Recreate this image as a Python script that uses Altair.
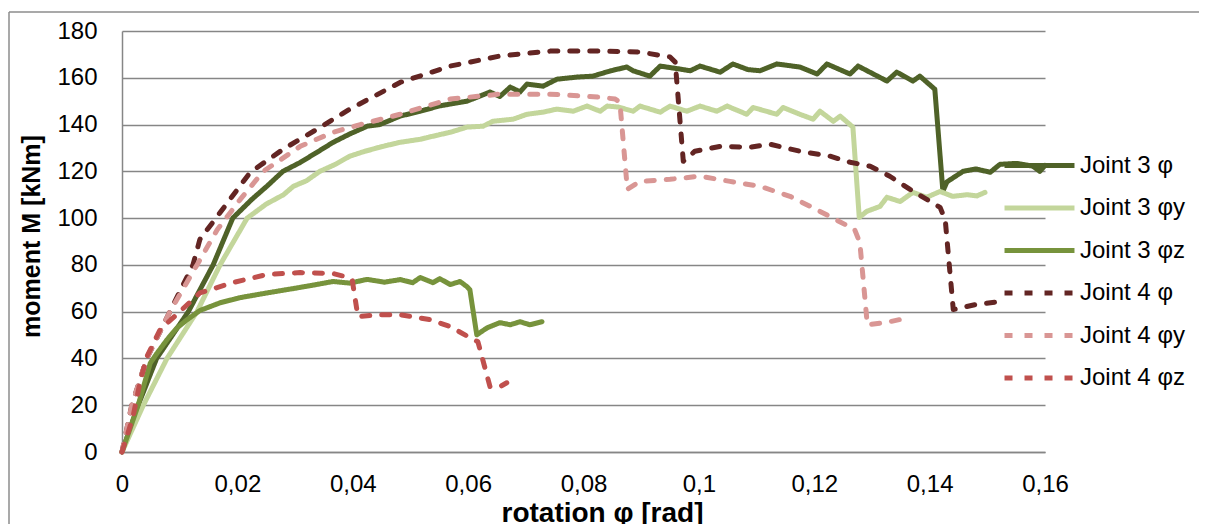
import altair as alt
import pandas as pd

# ---- data (rotation [rad], moment [kNm]) ----
series_names = ["Joint 3 φ", "Joint 3 φy", "Joint 3 φz", "Joint 4 φ", "Joint 4 φy", "Joint 4 φz"]
series_colors = ["#4F6228", "#C3D69B", "#77933C", "#632523", "#D99694", "#C0504D"]
series_dash = [[1, 0], [1, 0], [1, 0], [8, 12], [8, 12], [8, 12]]

j3_phi = [(0, 0), (0.0028, 20), (0.006, 40), (0.0115, 60), (0.0158, 80), (0.0192, 100), (0.0225, 108),
          (0.0251, 113.6), (0.0279, 120), (0.0309, 123.8), (0.0337, 128), (0.0366, 132.4), (0.0395, 136),
          (0.0425, 139.3), (0.0447, 140), (0.0482, 143.6), (0.0517, 145.7), (0.0551, 148), (0.0598, 150),
          (0.0638, 153.9), (0.0655, 152), (0.0673, 156), (0.069, 154), (0.0702, 157.3), (0.073, 156.4),
          (0.0754, 159.4), (0.0789, 160.3), (0.0816, 160.7), (0.0846, 162.9), (0.0875, 164.6), (0.0886, 163),
          (0.0915, 160.7), (0.0933, 165), (0.096, 164), (0.0985, 163), (0.1002, 165), (0.1037, 162.4),
          (0.1059, 165.9), (0.1085, 163.5), (0.1106, 163), (0.1135, 165.9), (0.1175, 164.6), (0.1205, 161.6),
          (0.1222, 165.9), (0.1262, 161.6), (0.1276, 165), (0.1326, 158.6), (0.1343, 162.4), (0.1371, 158.6),
          (0.1383, 160.7), (0.1409, 155.1), (0.1423, 111.5), (0.143, 115.5), (0.1458, 120), (0.148, 121),
          (0.1505, 119.6), (0.1522, 123), (0.1551, 123.4), (0.1579, 122.2), (0.1591, 120), (0.16, 122.5)]

j3_phiy = [(0, 0), (0.0037, 20), (0.0078, 40), (0.013, 60), (0.017, 80), (0.0217, 100), (0.025, 106),
           (0.028, 110), (0.0297, 113.6), (0.032, 116), (0.0343, 120), (0.037, 123), (0.0395, 126.5),
           (0.042, 128.5), (0.0453, 130.7), (0.0482, 132.4), (0.0517, 133.7), (0.0539, 135), (0.0569, 136.7),
           (0.0598, 138.9), (0.0626, 139.3), (0.0643, 141.4), (0.0678, 142.3), (0.0702, 144.4), (0.073, 145.3),
           (0.0754, 146.6), (0.0782, 145.7), (0.0806, 147.9), (0.0829, 145.7), (0.0841, 147.9), (0.086, 147.5),
           (0.0886, 145.7), (0.0898, 147.9), (0.0933, 145.3), (0.095, 147.9), (0.0979, 145.7), (0.1002, 147.9),
           (0.1031, 145.7), (0.1049, 147.9), (0.1083, 144.4), (0.1094, 147.3), (0.1135, 144.4), (0.1146, 147.3),
           (0.1175, 144.4), (0.1198, 142.3), (0.121, 145.7), (0.1233, 141.4), (0.1245, 143.6), (0.1267, 138.9),
           (0.1278, 100.3), (0.1291, 102.9), (0.1314, 105), (0.1326, 108.9), (0.1349, 107.1), (0.1371, 111),
           (0.1395, 108.9), (0.1418, 111.4), (0.144, 109.3), (0.1465, 110), (0.1482, 109.5), (0.1496, 111)]

j3_phiz = [(0, 0), (0.0028, 20), (0.0049, 38), (0.006, 42), (0.0078, 48), (0.0095, 53), (0.0113, 56.6),
           (0.0135, 60.5), (0.017, 63.8), (0.0205, 66), (0.0251, 68), (0.03, 70), (0.0335, 71.5),
           (0.0366, 72.9), (0.0395, 72.2), (0.0425, 73.8), (0.0455, 72.6), (0.0482, 73.7), (0.0504, 72.4),
           (0.0517, 74.6), (0.0539, 72.4), (0.0551, 74.1), (0.0569, 71.6), (0.0586, 72.9), (0.0598, 70.7),
           (0.0603, 69.4), (0.0615, 50.1), (0.0633, 53.1), (0.0655, 55.3), (0.0673, 54.4), (0.069, 55.7),
           (0.0707, 54.4), (0.0728, 55.7)]

j4_phi = [(0, 0), (0.0017, 20), (0.0043, 40), (0.0083, 60), (0.0123, 80), (0.0135, 90.9), (0.0165, 100.7),
          (0.0222, 119.5), (0.0279, 129.4), (0.0338, 138), (0.0395, 146.6), (0.0482, 158), (0.0569, 165),
          (0.0655, 169.3), (0.0742, 171.4), (0.0829, 171.4), (0.0898, 171), (0.095, 168.9), (0.0959, 166.7),
          (0.0973, 124.3), (0.0993, 128.6), (0.1037, 130.7), (0.1089, 130.3), (0.1123, 131.6), (0.1175, 128.6),
          (0.1227, 126.5), (0.1262, 123.9), (0.1297, 122.2), (0.1331, 117.9), (0.1366, 112.3), (0.1418, 104.6),
          (0.1427, 99.4), (0.1441, 60.9), (0.1479, 63), (0.1522, 64.3)]

j4_phiy = [(0, 0), (0.0017, 20), (0.0043, 40), (0.0083, 60), (0.013, 80), (0.0165, 95), (0.0205, 108),
           (0.0245, 120), (0.0309, 130.7), (0.0366, 136.7), (0.0413, 140), (0.0482, 144.4), (0.0569, 150.9),
           (0.0655, 153), (0.0742, 153), (0.0829, 151.7), (0.0855, 150.9), (0.0863, 149.6), (0.0876, 112.3),
           (0.0898, 115.7), (0.095, 116.6), (0.1002, 117.9), (0.1054, 115.7), (0.1106, 113.6), (0.1158, 109.3),
           (0.1193, 105), (0.1227, 100.7), (0.127, 95.1), (0.1279, 89.6), (0.1292, 54.4), (0.1323, 55.3),
           (0.1363, 57.4)]

j4_phiz = [(0, 0), (0.0019, 15), (0.0031, 29.6), (0.0043, 40.7), (0.0066, 52.3), (0.01, 60), (0.0135, 68),
           (0.0192, 72.4), (0.0251, 75.9), (0.0309, 76.7), (0.0366, 76.3), (0.0387, 75), (0.0399, 73.7),
           (0.0409, 57.9), (0.0447, 58.7), (0.0482, 58.7), (0.0534, 56.6), (0.0569, 53.6), (0.0603, 48.9),
           (0.0617, 47.1), (0.0638, 27.9), (0.0655, 27.9), (0.0667, 29.6)]

x_ticks = [0, 0.02, 0.04, 0.06, 0.08, 0.1, 0.12, 0.14, 0.16]
y_ticks = [0, 20, 40, 60, 80, 100, 120, 140, 160, 180]

all_series = [j3_phi, j3_phiy, j3_phiz, j4_phi, j4_phiy, j4_phiz]
rows = []
for order, (name, pts) in enumerate(zip(series_names, all_series)):
    for i, (xv, yv) in enumerate(pts):
        rows.append({"series": name, "rot": xv, "moment": yv, "i": i, "o": order})
df = pd.DataFrame(rows)

FONT = "Liberation Sans"
GRID = "#868686"

legend_kw = dict(title=None, orient="none", legendX=903, legendY=120,
                 symbolType="M-3,0H3", symbolSize=544, symbolStrokeWidth=5,
                 labelFontSize=24, labelOffset=26, labelColor="#000000",
                 rowPadding=15.5, padding=0)

lines = alt.Chart(df).mark_line(strokeWidth=5, strokeCap="round", strokeJoin="round").encode(
    x=alt.X("rot:Q", scale=alt.Scale(domain=[0, 0.16], nice=False, zero=False),
            axis=alt.Axis(values=x_ticks, title="rotation φ [rad]",
                          labelExpr="replace(format(datum.value, '.2~f'), '.', ',')",
                          grid=False, ticks=False, domain=True, domainColor=GRID, domainWidth=1.5,
                          labelFontSize=24, labelPadding=20, labelColor="#000000", labelFlush=False,
                          titleFontSize=28, titleFontWeight="bold", titleColor="#000000",
                          titleX=480, titleY=69, titleAlign="center", titleBaseline="alphabetic")),
    y=alt.Y("moment:Q", scale=alt.Scale(domain=[0, 180], nice=False),
            axis=alt.Axis(values=y_ticks, title="moment M [kNm]",
                          grid=True, gridColor=GRID, gridWidth=1.5, ticks=False,
                          domain=True, domainColor=GRID, domainWidth=1.5, labelFlush=False,
                          labelFontSize=24, labelPadding=25, labelColor="#000000",
                          titleFontSize=25, titleFontWeight="bold", titleColor="#000000",
                          titleAngle=-90, titleX=-91, titleY=205, titleAlign="center",
                          titleBaseline="middle")),
    color=alt.Color("series:N", scale=alt.Scale(domain=series_names, range=series_colors),
                    legend=alt.Legend(**legend_kw)),
    strokeDash=alt.StrokeDash("series:N", scale=alt.Scale(domain=series_names, range=series_dash),
                              legend=alt.Legend(**legend_kw)),
    order=alt.Order("i:Q"),
    detail="series:N",
)

frame_df = pd.DataFrame({"k": [0]})
frame_left = alt.Chart(frame_df).mark_rule(color="#8C8C8C", strokeWidth=1.5).encode(
    x=alt.value(-113), y=alt.value(-19), y2=alt.value(520))
frame_top = alt.Chart(frame_df).mark_rule(color="#8C8C8C", strokeWidth=1.5).encode(
    x=alt.value(-113), x2=alt.value(1100), y=alt.value(-19))

chart = alt.layer(frame_left, frame_top, lines).properties(
    width=923, height=421,
    padding={"left": 114, "top": 23, "right": 154, "bottom": 72},
    autosize="none",
).configure(font=FONT).configure_view(stroke=None).configure_axis(labelFont=FONT, titleFont=FONT)

chart.save("out.html", embed_options={"renderer": "svg", "actions": False})
